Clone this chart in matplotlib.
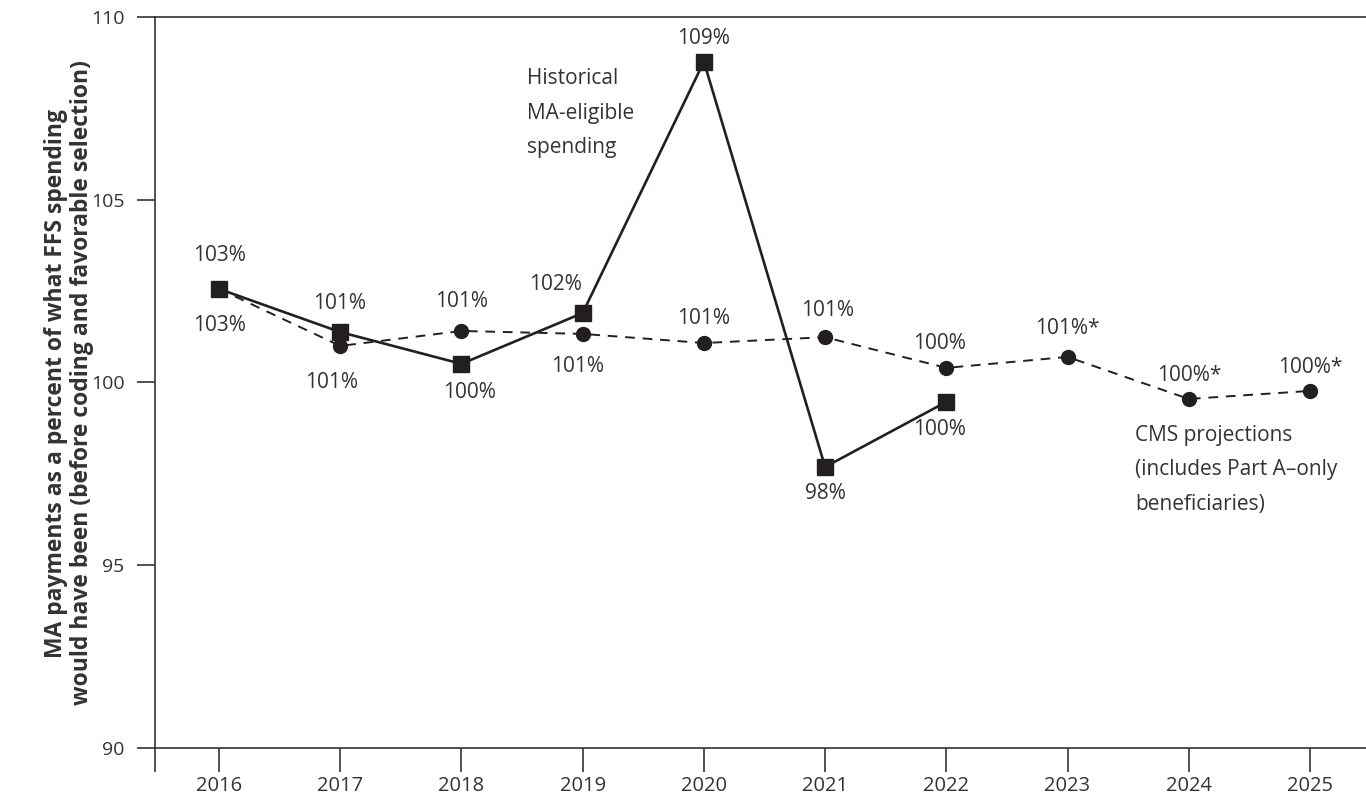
import matplotlib
matplotlib.use("Agg")
import matplotlib.pyplot as plt
from matplotlib.ticker import FixedLocator

plt.rcParams['font.family'] = ['Open Sans', 'DejaVu Sans']

# Datos
years = [2016, 2017, 2018, 2019, 2020, 2021, 2022, 2023, 2024, 2025]
hist_years = years[:7]
hist_vals = [102.56, 101.38, 100.51, 101.90, 108.78, 97.69, 99.47]
cms_vals = [102.56, 101.00, 101.41, 101.33, 101.08, 101.24, 100.40, 100.70, 99.55, 99.77]

hist_labels = ['103%', '101%', '100%', '102%', '109%', '98%', '100%']
cms_labels = ['103%', '101%', '101%', '101%', '101%', '101%', '100%',
              '101%*', '100%*', '100%*']

# desplazamientos de las etiquetas (pixeles)
hist_off = [(0, 33), (-1, 29), (8, -29), (-27, 29), (0, 23), (0, -27), (-7, -28)]
cms_off = [(0, -37), (-9, -37), (0, 29), (-5, -33), (0, 25), (2, 27), (-7, 24),
           (0, 28), (0, 23), (0, 23)]

ink = '#231f20'
txt = '#333333'

fig = plt.figure(figsize=(13.66, 7.98), dpi=100)
ax = fig.add_axes([155/1366, 50/798, 1 - 155/1366, 731/798])

ax.plot(years, cms_vals, color=ink, lw=1.4, ls=(0, (5, 4)),
        marker='o', ms=10, zorder=2)
ax.plot(hist_years, hist_vals, color=ink, lw=1.9, marker='s', ms=11,
        zorder=3)

for x, y, s, o in zip(hist_years, hist_vals, hist_labels, hist_off):
    ax.annotate(s, (x, y), xytext=o, textcoords='offset pixels',
                ha='center', va='center', fontsize=15, color=txt)
for x, y, s, o in zip(years, cms_vals, cms_labels, cms_off):
    ax.annotate(s, (x, y), xytext=o, textcoords='offset pixels',
                ha='center', va='center', fontsize=15, color=txt)

ax.text(2018.54, 108.6, 'Historical\nMA-eligible\nspending', ha='left',
        va='top', fontsize=15, color=txt, linespacing=1.85)
ax.text(2023.56, 98.85, 'CMS projections\n(includes Part A\u2013only\nbeneficiaries)',
        ha='left', va='top', fontsize=15, color=txt, linespacing=1.85)

ax.set_xlim(2015.472, 2025.462)
ax.set_ylim(90, 110)
ax.set_xticks(years)
ax.set_xticklabels([str(y) for y in years])
ax.xaxis.set_minor_locator(FixedLocator([2015.472]))
ax.set_yticks([90, 95, 100, 105, 110])

ax.spines['right'].set_visible(False)
for s in ['left', 'bottom', 'top']:
    ax.spines[s].set_color('#333333')
    ax.spines[s].set_linewidth(1.2)

ax.tick_params(axis='x', which='both', direction='out', length=17, width=1.2,
               color='#333333', labelsize=14.5, labelcolor=txt, pad=3)
ax.tick_params(axis='y', direction='out', length=13, width=1.2,
               color='#333333', labelsize=14, labelcolor=txt, pad=9)

fig.text(69/1366, 0.52,
         'MA payments as a percent of what FFS spending\n'
         'would have been (before coding and favorable selection)',
         rotation=90, ha='center', va='center', fontsize=16.5,
         fontweight='bold', color=txt, linespacing=1.08)

fig.savefig('out.png', dpi=100)
plt.close(fig)
